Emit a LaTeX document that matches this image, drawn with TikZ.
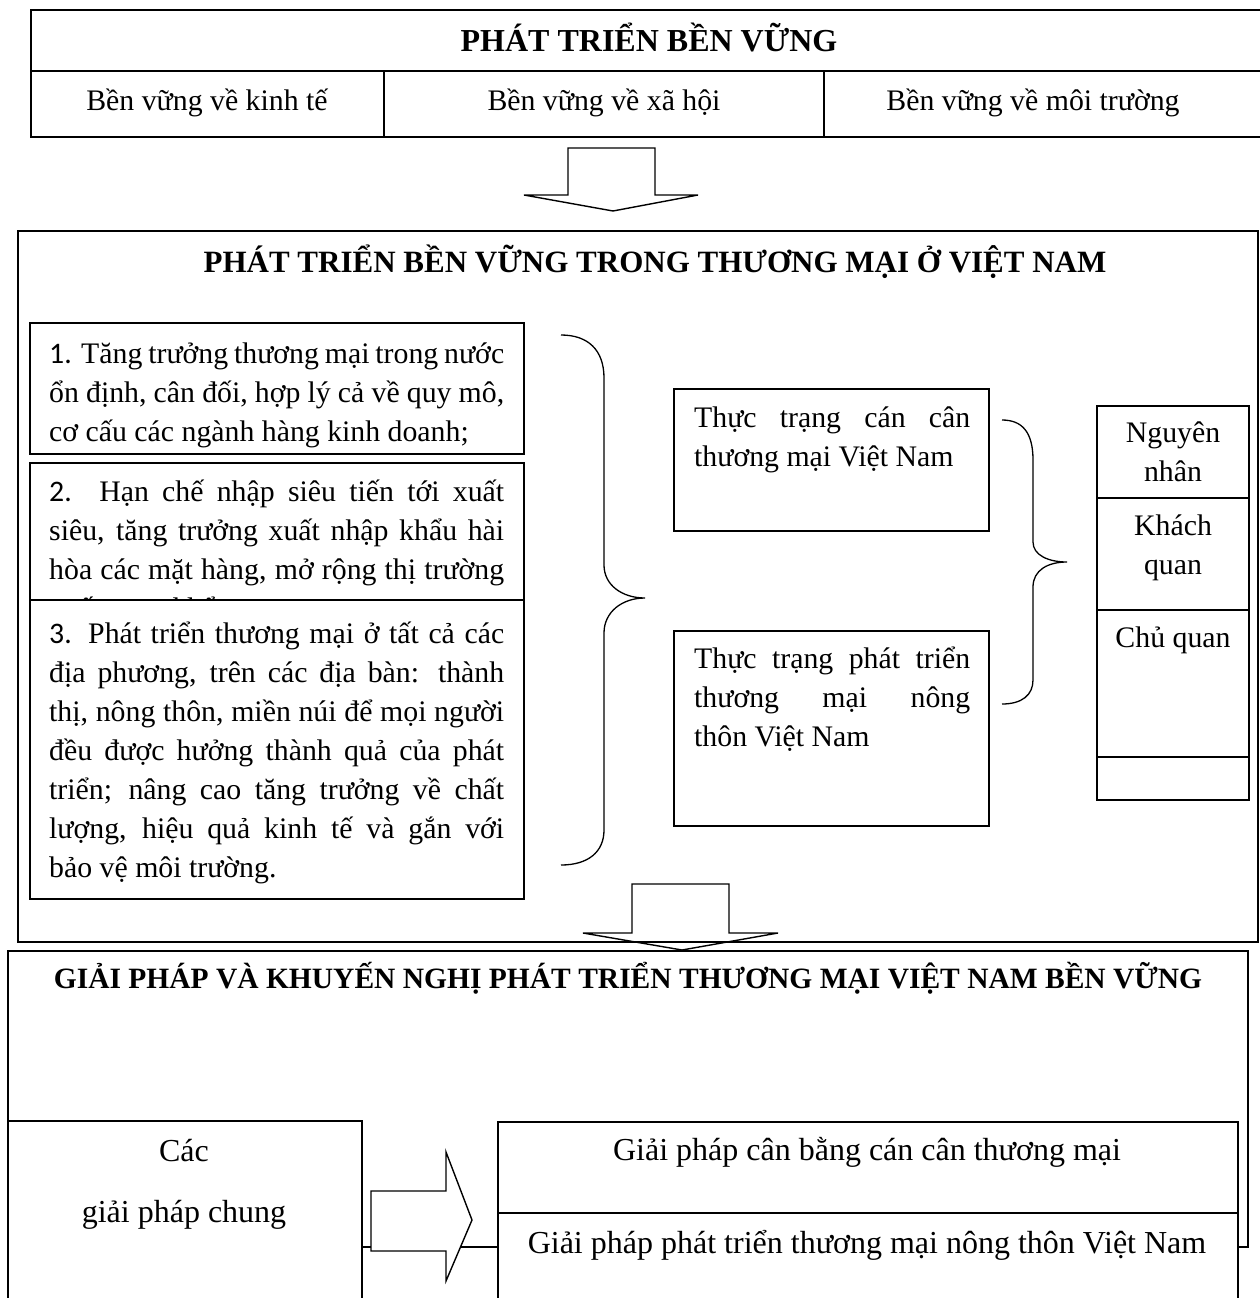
\documentclass[tikz,border=0pt]{standalone}
\usepackage{fontspec}
\setmainfont{Liberation Serif}
\newfontfamily\numfont{Carlito}
\tikzset{
  bx/.style={line width=1.4pt},
  wbx/.style={line width=1.4pt, fill=white},
  body/.style={inner sep=0pt, font=\fontsize{29.8}{39}\selectfont},
  big/.style={inner sep=0pt, font=\fontsize{32}{39}\selectfont},
  ttl/.style={inner sep=0pt, font=\fontsize{32}{39}\selectfont\bfseries},
}
\newcommand\JL[2]{\hbox{\makebox[#1][s]{#2}}}
\newcommand\LL[1]{\hbox{#1}}
\newcommand\CL[1]{\vtop{\halign{\hfil##\hfil\cr#1\crcr}}}
\begin{document}
\begin{tikzpicture}[x=1pt,y=-1pt]
\useasboundingbox (0,0) rectangle (1260,1298);
% ---------- top box
\draw[bx] (31,10) rectangle (1275,137);
\draw[bx] (31,71) -- (1275,71);
\draw[bx] (384,71) -- (384,137);
\draw[bx] (824,71) -- (824,137);
\node[ttl, anchor=base] (t1) at (649,52) {PHÁT TRIỂN BỀN VỮNG};
\node[body, anchor=base] (k1) at (207,110) {Bền vững về kinh tế};
\node[body, anchor=base] (k2) at (604,110) {Bền vững về xã hội};
\node[body, anchor=base] (k3) at (1033,110) {Bền vững về môi trường};
% ---------- arrow 1
\draw[bx] (568,148) -- (655,148) -- (655,195) -- (698,195) -- (613,211) -- (524,195) -- (568,195) -- cycle;
% ---------- middle box
\draw[bx] (18,231) rectangle (1258,942);
\node[ttl, anchor=base, font=\fontsize{31}{39}\selectfont\bfseries] (t2) at (655,272) {PHÁT TRIỂN BỀN VỮNG TRONG THƯƠNG MẠI Ở VIỆT NAM};
% box 1
\draw[bx] (30,323) rectangle (524,454);
\node[body, anchor=base west] (b1) at (49,363) {\vtop{%
\JL{455pt}{{\numfont 1.} Tăng trưởng thương mại trong nước}
\JL{455pt}{ổn định, cân đối, hợp lý cả về quy mô,}
\LL{cơ cấu các ngành hàng kinh doanh;}}};
% box 2
\draw[bx] (30,463) rectangle (524,600);
\node[body, anchor=base west] (b2) at (49,501) {\vtop{%
\JL{455pt}{{\numfont 2.} Hạn chế nhập siêu tiến tới xuất}
\JL{455pt}{siêu, tăng trưởng xuất nhập khẩu hài}
\JL{455pt}{hòa các mặt hàng, mở rộng thị trường}
\LL{xuất\hspace{72pt}khẩu}}};
% box 3
\draw[wbx] (30,600) rectangle (524,899);
\node[body, anchor=base west] (b3) at (49,643) {\vtop{%
\JL{455pt}{{\numfont 3.} Phát triển thương mại ở tất cả các}
\JL{455pt}{địa phương, trên các địa bàn: thành}
\JL{455pt}{thị, nông thôn, miền núi để mọi người}
\JL{455pt}{đều được hưởng thành quả của phát}
\JL{455pt}{triển; nâng cao tăng trưởng về chất}
\JL{455pt}{lượng, hiệu quả kinh tế và gắn với}
\LL{bảo vệ môi trường.}}};
% brace 1
\draw[line width=1.3pt] (561,335) .. controls (588,335) and (604,350) .. (604,378)
  -- (604,565) .. controls (604,585) and (622,598) .. (645,598)
  .. controls (622,598) and (604,612) .. (604,633)
  -- (604,830) .. controls (604,852) and (588,865) .. (561,865);
% box A / B
\draw[bx] (674,389) rectangle (989,531);
\node[body, anchor=base west] (ba) at (694,427) {\vtop{%
\JL{276pt}{Thực trạng cán cân}
\LL{thương mại Việt Nam}}};
\draw[bx] (674,631) rectangle (989,826);
\node[body, anchor=base west] (bb) at (694,668) {\vtop{%
\JL{276pt}{Thực trạng phát triển}
\JL{276pt}{thương mại nông}
\LL{thôn Việt Nam}}};
% brace 2
\draw[line width=1.3pt] (1002,420) .. controls (1022,420) and (1033,432) .. (1033,460)
  -- (1033,542) .. controls (1033,555) and (1048,562) .. (1067,562)
  .. controls (1048,562) and (1033,570) .. (1033,587)
  -- (1033,680) .. controls (1033,695) and (1022,704) .. (1002,704);
% column
\draw[bx] (1097,406) rectangle (1249,800);
\draw[bx] (1097,498) -- (1249,498);
\draw[bx] (1097,610) -- (1249,610);
\draw[bx] (1097,757) -- (1249,757);
\node[body, anchor=base] (c1) at (1173,442) {\CL{Nguyên\cr nhân}};
\node[body, anchor=base] (c2) at (1173,535) {\CL{Khách\cr quan}};
\node[body, anchor=base] (c3) at (1173,647) {Chủ quan};
% ---------- bottom box
\draw[bx] (8,951) rectangle (1248,1247);
\node[ttl, anchor=base, font=\fontsize{29.5}{39}\selectfont\bfseries] (t3) at (628,988) {GIẢI PHÁP VÀ KHUYẾN NGHỊ PHÁT TRIỂN THƯƠNG MẠI VIỆT NAM BỀN VỮNG};
% arrow 2 (outline only)
\draw[bx] (632,884) -- (729,884) -- (729,933) -- (778,933) -- (682,950) -- (583,933) -- (632,933) -- cycle;
% lower boxes
\draw[wbx] (8,1121) rectangle (362,1320);
\node[big, anchor=base] (g1) at (184,1161) {\CL{Các\cr\noalign{\vskip 22pt} giải pháp chung}};
\draw[wbx] (498,1122) rectangle (1238,1320);
\draw[bx] (498,1213) -- (1238,1213);
\node[big, anchor=base] (g2) at (867,1160) {Giải pháp cân bằng cán cân thương mại};
\node[big, anchor=base] (g3) at (867,1253) {Giải pháp phát triển thương mại nông thôn Việt Nam};
% arrow 3
\draw[wbx] (371,1191) -- (446,1191) -- (446,1152) -- (472,1220) -- (446,1281) -- (446,1251) -- (371,1251) -- cycle;
\end{tikzpicture}
\end{document}
